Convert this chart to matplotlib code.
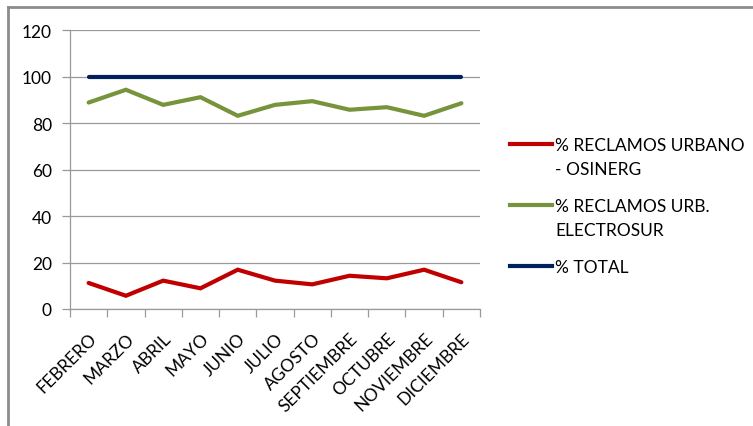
import matplotlib
matplotlib.use("Agg")
import matplotlib.pyplot as plt
from matplotlib.lines import Line2D
import numpy as np

plt.rcParams['font.family'] = ['Lato', 'DejaVu Sans']

meses = ["FEBRERO", "MARZO", "ABRIL", "MAYO", "JUNIO", "JULIO", "AGOSTO",
         "SEPTIEMBRE", "OCTUBRE", "NOVIEMBRE", "DICIEMBRE"]
urbano_osinerg = [11.2, 5.7, 12.2, 8.9, 16.9, 12.2, 10.6, 14.3, 13.2, 16.9, 11.5]
urb_electrosur = [88.8, 94.3, 87.8, 91.1, 83.1, 87.8, 89.4, 85.7, 86.8, 83.1, 88.5]
total = [100, 100, 100, 100, 100, 100, 100, 100, 100, 100, 100]
y_ticks = [0, 20, 40, 60, 80, 100, 120]
series_names = ["% RECLAMOS URBANO\n- OSINERG", "% RECLAMOS URB.\nELECTROSUR", "% TOTAL"]
series_colors = ["#C00000", "#77933C", "#002060"]

W, H = 753, 427
FS = 12.5
fig = plt.figure(figsize=(W / 100, H / 100), dpi=100)
ax = fig.add_axes([70 / W, 1 - 310 / H, 410 / W, 279 / H])

x = np.arange(len(meses))
lines = []
for vals, name, col in zip([urbano_osinerg, urb_electrosur, total], series_names, series_colors):
    ln, = ax.plot(x, vals, color=col, lw=3, label=name,
                  solid_capstyle="round", solid_joinstyle="miter")
    lines.append(ln)

ax.set_xlim(-0.5, len(meses) - 0.5)
ax.set_ylim(0, 120)
ax.set_yticks(y_ticks)
ax.grid(axis="y", color="#999999", lw=0.9)
ax.set_axisbelow(True)

ax.set_xticks(x)
ax.set_xticklabels(meses, rotation=45, ha="right", rotation_mode="anchor", fontsize=FS)
ax.tick_params(axis="x", which="major", length=0, pad=15)
ax.set_xticks(np.arange(-0.5, len(meses)), minor=True)
ax.tick_params(axis="x", which="minor", length=6, color="#999999", width=0.9)
ax.tick_params(axis="y", length=6, color="#999999", width=0.9, labelsize=FS, pad=7)

for s in ["top", "right"]:
    ax.spines[s].set_visible(False)
for s in ["left", "bottom"]:
    ax.spines[s].set_color("#999999")
    ax.spines[s].set_linewidth(0.9)

# legend: key line aligned with the first text line of each entry
entry_y = [145, 206, 267]
line_gap = 24
for ln, ey in zip(lines, entry_y):
    fy = 1 - ey / H
    fig.add_artist(Line2D([510 / W, 552 / W], [fy, fy], color=ln.get_color(), lw=3,
                          transform=fig.transFigure))
    for k, part in enumerate(ln.get_label().split("\n")):
        fig.text(555 / W, 1 - (ey + k * line_gap + 6) / H, part, fontsize=FS,
                 ha="left", va="baseline")

# outer chart frame
fig.add_artist(Line2D([7.5 / W, 7.5 / W], [0, 1 - 7.5 / H], color="#8C8C8C", lw=2,
                      transform=fig.transFigure))
fig.add_artist(Line2D([7.5 / W, 1], [1 - 7.5 / H, 1 - 7.5 / H], color="#8C8C8C", lw=2,
                      transform=fig.transFigure))

fig.savefig("out.png", dpi=100)
